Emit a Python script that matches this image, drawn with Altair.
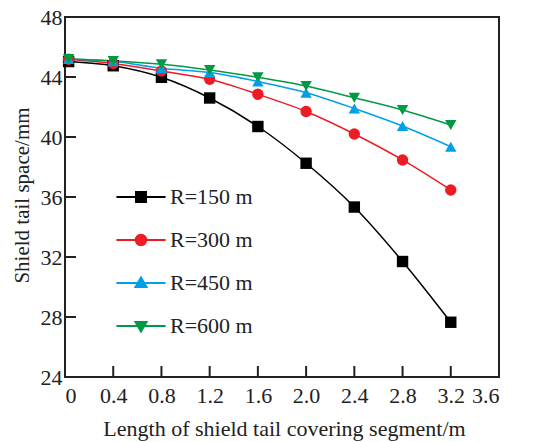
import altair as alt
import pandas as pd

# ---- data ----
x_vals = [0.03, 0.4, 0.8, 1.2, 1.6, 2.0, 2.4, 2.8, 3.2]
series_labels = ["R=150 m", "R=300 m", "R=450 m", "R=600 m"]
r150 = [45.03, 44.75, 43.98, 42.6, 40.7, 38.25, 35.33, 31.7, 27.65]
r300 = [45.18, 44.9, 44.4, 43.85, 42.85, 41.7, 40.2, 38.47, 36.47]
r450 = [45.2, 45.05, 44.58, 44.3, 43.7, 42.95, 41.9, 40.73, 39.35]
r600 = [45.2, 45.07, 44.85, 44.47, 43.98, 43.4, 42.62, 41.8, 40.8]
x_ticks = [0.4, 0.8, 1.2, 1.6, 2.0, 2.4, 2.8, 3.2]
y_ticks = [28, 32, 36, 40, 44]
x_label_values = [0, 0.4, 0.8, 1.2, 1.6, 2.0, 2.4, 2.8, 3.2, 3.6]
y_label_values = [24, 28, 32, 36, 40, 44, 48]

colors = ["#000000", "#ED1C24", "#00A0E9", "#009944"]
shapes = ["square", "circle", "triangle-up", "triangle-down"]

rows = []
for lab, vals in zip(series_labels, [r150, r300, r450, r600]):
    for x, y in zip(x_vals, vals):
        rows.append({"x": x, "y": y, "series": lab})
df = pd.DataFrame(rows)

W, H = 434, 360
FONT = "Liberation Serif"

# legend symbols: a line with a marker in the middle (custom paths, 1 unit = 21 px)
def nested(fn, hs):
    return "".join(fn(h) for h in hs)

hs = [0.238, 0.167, 0.095, 0.03]
sq = lambda h: f"M{-h},{-h}H{h}V{h}H{-h}Z"
ci = lambda r: f"M{r},0A{r},{r} 0 1,1 {-r},0A{r},{r} 0 1,1 {r},0Z"
tu = lambda h: f"M0,{-1.1*h}L{1.1*h},{0.8*h}L{-1.1*h},{0.8*h}Z"
td = lambda h: f"M0,{1.1*h}L{1.1*h},{-0.8*h}L{-1.1*h},{-0.8*h}Z"
line = "M-1.17,0H1.17"
legend_paths = [
    line + nested(sq, hs),
    line + nested(ci, [0.25, 0.17, 0.095, 0.03]),
    line + nested(tu, hs),
    line + nested(td, hs),
]

xs = alt.Scale(domain=[0, 3.6], nice=False)
ys = alt.Scale(domain=[24, 48], nice=False)

x_axis = alt.Axis(values=x_label_values,
                  labelExpr="datum.value == 0 ? '0' : format(datum.value, '.1f')",
                  labelPadding=8,
                  title="Length of shield tail covering segment/m",
                  titleFontSize=22, titleX=219, titleY=58,
                  titleAnchor="middle", titleBaseline="alphabetic")
y_axis = alt.Axis(values=y_label_values, labelPadding=3,
                  title="Shield tail space/mm",
                  titleFontSize=21, titleX=-43, titleY=178,
                  titleAnchor="middle", titleAlign="center",
                  titleBaseline="middle", titleAngle=-90)

lines = alt.Chart(df).mark_line(interpolate="monotone", strokeWidth=1.5).encode(
    x=alt.X("x:Q", scale=xs, axis=x_axis),
    y=alt.Y("y:Q", scale=ys, axis=y_axis),
    color=alt.Color("series:N", scale=alt.Scale(domain=series_labels, range=colors), legend=None),
    detail="series:N",
)

points = alt.Chart(df).mark_point(filled=True, opacity=1, size=130).encode(
    x=alt.X("x:Q", scale=xs),
    y=alt.Y("y:Q", scale=ys),
    color=alt.Color("series:N", scale=alt.Scale(domain=series_labels, range=colors), legend=None),
    shape=alt.Shape("series:N", scale=alt.Scale(domain=series_labels, range=shapes), legend=None),
)

leg = alt.Legend(title=None, orient="none", legendX=54, legendY=158,
                 symbolSize=1764, symbolStrokeWidth=2,
                 labelFontSize=22, labelColor="#222",
                 labelOffset=7, rowPadding=10, padding=0)

legend_layer = alt.Chart(df).transform_filter("false").mark_point(
    filled=False, opacity=1, strokeWidth=2).encode(
    x=alt.X("x:Q", scale=xs),
    y=alt.Y("y:Q", scale=ys),
    color=alt.Color("series:N", scale=alt.Scale(domain=series_labels, range=colors), legend=leg),
    shape=alt.Shape("series:N", scale=alt.Scale(domain=series_labels, range=legend_paths), legend=leg),
)

tick_df = pd.DataFrame({"x": x_ticks})
ytick_df = pd.DataFrame({"y": y_ticks})
xticks = alt.Chart(tick_df).mark_rule(color="#222", strokeWidth=2).encode(
    x=alt.X("x:Q", scale=xs), y=alt.value(H), y2=alt.value(H - 11))
yticks = alt.Chart(ytick_df).mark_rule(color="#222", strokeWidth=2).encode(
    y=alt.Y("y:Q", scale=ys), x=alt.value(0), x2=alt.value(11))

chart = alt.layer(lines, points, legend_layer, xticks, yticks).resolve_scale(
    color="independent", shape="independent"
).properties(
    width=W, height=H,
    autosize=alt.AutoSizeParams(type="none"),
    padding={"left": 65, "top": 17, "right": 47, "bottom": 65},
).configure(
    background="white", font=FONT
).configure_view(stroke="#222", strokeWidth=2
).configure_axis(labelFont=FONT, titleFont=FONT, labelFontSize=22,
                 labelColor="#222", titleColor="#222", titleFontWeight="normal",
                 ticks=False, domain=False, grid=False
).configure_legend(labelFont=FONT)

chart.save("out.html", embed_options={"renderer": "svg", "actions": False})
